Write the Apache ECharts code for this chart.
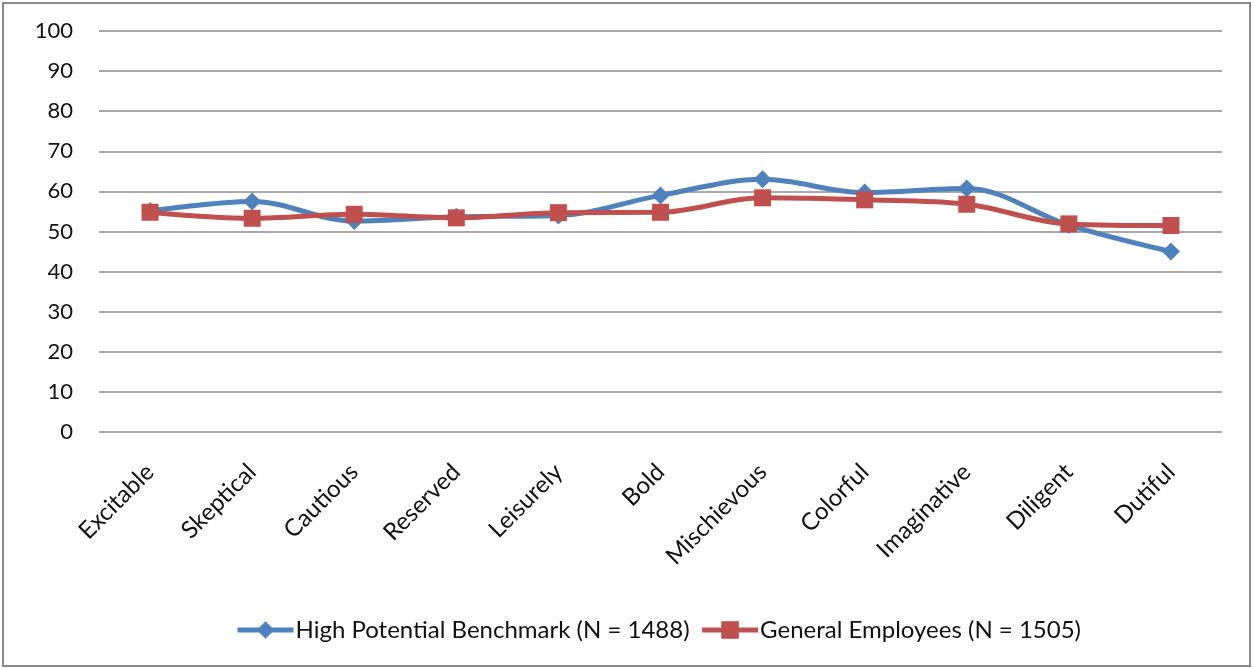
<!DOCTYPE html>
<html>
<head>
<meta charset="utf-8">
<script src="https://cdn.jsdelivr.net/npm/echarts@6/dist/echarts.min.js"></script>
<style>
html,body{margin:0;padding:0;background:#fff;}
#chart{width:1253px;height:668px;}
</style>
</head>
<body>
<div id="chart"></div>
<script>
const categories = ['Excitable','Skeptical','Cautious','Reserved','Leisurely','Bold','Mischievous','Colorful','Imaginative','Diligent','Dutiful'];
const highPotential = [55.1, 57.5, 52.6, 53.7, 54.0, 59.0, 63.0, 59.7, 60.7, 51.6, 45.0];
const generalEmployees = [54.8, 53.3, 54.3, 53.4, 54.7, 54.8, 58.4, 57.9, 56.8, 51.9, 51.5];
const yTicks = [0,10,20,30,40,50,60,70,80,90,100];
const seriesNames = ['High Potential Benchmark (N = 1488)', 'General Employees (N = 1505)'];

const chart = echarts.init(document.getElementById('chart'));
chart.setOption({
  animation: false,
  backgroundColor: '#fff',
  graphic: [{
    type: 'rect',
    shape: {x: 3, y: 3, width: 1247, height: 663},
    style: {fill: 'none', stroke: '#8a8a8a', lineWidth: 2},
    silent: true
  }],
  grid: {left: 99, right: 31, top: 31, bottom: 236, containLabel: false},
  legend: {
    bottom: 21,
    left: 230,
    itemGap: 10,
    itemWidth: 56,
    itemHeight: 22,
    lineStyle: {width: 5},
    textStyle: {fontFamily: 'Lato', fontSize: 24, color: '#111', padding: [0,0,0,-3]},
    data: seriesNames
  },
  xAxis: {
    type: 'category',
    data: categories,
    boundaryGap: true,
    axisLine: {show: false},
    axisTick: {show: false},
    axisLabel: {
      rotate: 45,
      margin: 36,
      interval: 0,
      fontFamily: 'Lato',
      fontSize: 24,
      color: '#111'
    }
  },
  yAxis: {
    type: 'value',
    min: yTicks[0],
    max: yTicks[yTicks.length - 1],
    interval: 10,
    axisLine: {show: false},
    axisTick: {show: false},
    axisLabel: {margin: 26, fontFamily: 'Lato', fontSize: 22, color: '#111'},
    splitLine: {lineStyle: {color: '#8c8c8c', width: 1.5}}
  },
  series: [
    {
      name: seriesNames[0],
      type: 'line',
      data: highPotential,
      smooth: 0.35,
      symbol: 'diamond',
      symbolSize: 18,
      itemStyle: {color: '#4F81BD'},
      lineStyle: {color: '#4F81BD', width: 5},
      z: 2
    },
    {
      name: seriesNames[1],
      type: 'line',
      data: generalEmployees,
      smooth: 0.35,
      symbol: 'rect',
      symbolSize: 17,
      itemStyle: {color: '#C0504D'},
      lineStyle: {color: '#C0504D', width: 5},
      z: 3
    }
  ]
});
</script>
</body>
</html>
